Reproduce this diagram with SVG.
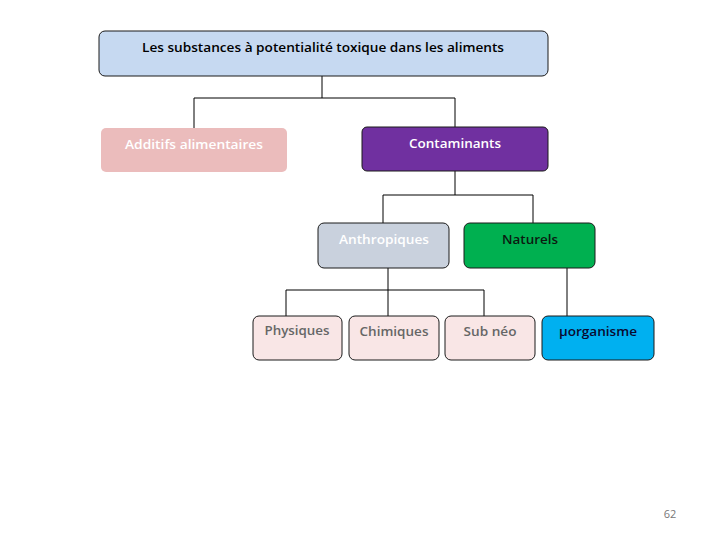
<svg xmlns="http://www.w3.org/2000/svg" width="720" height="540" viewBox="0 0 720 540">
<style>
text{font-family:"Open Sans","Liberation Sans",sans-serif;font-size:13px;font-weight:600;text-anchor:middle}
.b{stroke:#1a1a1a;stroke-width:1}
.c{fill:none;stroke:#000;stroke-width:1}
</style>
<rect width="720" height="540" fill="#fff"/>
<g id="connectors">
<path class="c" d="M322 76V98M194 98H455M194 98V128M455 98V127"/>
<path class="c" d="M455 171V195M383 195H533M383 195V223M533 195V223"/>
<path class="c" d="M388 268V290M286 290H484M286 290V316M388 290V316M484 290V316"/>
<path class="c" d="M567 268V316"/>
</g>
<g id="root"><rect class="b" x="99" y="31" width="449" height="45" rx="6" fill="#c6d9f1"/><text x="323" y="52" fill="#000" textLength="362" lengthAdjust="spacingAndGlyphs">Les substances à potentialité toxique dans les aliments</text></g>
<g id="additifs"><rect x="101" y="128" width="186" height="44" rx="5" fill="#ebbcbc"/><text x="194" y="149" fill="#fff" textLength="138" lengthAdjust="spacingAndGlyphs">Additifs alimentaires</text></g>
<g id="contaminants"><rect class="b" x="362" y="127" width="186" height="44" rx="5" fill="#7030a0"/><text x="455" y="148" fill="#fff" textLength="92" lengthAdjust="spacingAndGlyphs">Contaminants</text></g>
<g id="anthropiques"><rect class="b" x="318" y="223" width="131" height="45" rx="6" fill="#c9d1dd"/><text x="384" y="244" fill="#fff" textLength="90" lengthAdjust="spacingAndGlyphs">Anthropiques</text></g>
<g id="naturels"><rect class="b" x="464" y="223" width="131" height="45" rx="6" fill="#00b050"/><text x="530" y="244" fill="#0b1a10" textLength="56" lengthAdjust="spacingAndGlyphs">Naturels</text></g>
<g id="physiques"><rect class="b" x="253" y="316" width="89" height="44" rx="6" fill="#f9e6e6"/><text x="297" y="335" fill="#666" textLength="65" lengthAdjust="spacingAndGlyphs">Physiques</text></g>
<g id="chimiques"><rect class="b" x="349" y="316" width="90" height="44" rx="6" fill="#f9e6e6"/><text x="394" y="336" fill="#666" textLength="69" lengthAdjust="spacingAndGlyphs">Chimiques</text></g>
<g id="subneo"><rect class="b" x="445" y="316" width="90" height="44" rx="6" fill="#f9e6e6"/><text x="490" y="336" fill="#666" textLength="53" lengthAdjust="spacingAndGlyphs">Sub néo</text></g>
<g id="micro"><rect class="b" x="542" y="316" width="112" height="44" rx="6" fill="#00b0f0"/><text x="598" y="336" fill="#0a0a30" textLength="78" lengthAdjust="spacingAndGlyphs">µorganisme</text></g>
<text x="670" y="518" fill="#777" style="font-size:11px;font-weight:400">62</text>
</svg>
